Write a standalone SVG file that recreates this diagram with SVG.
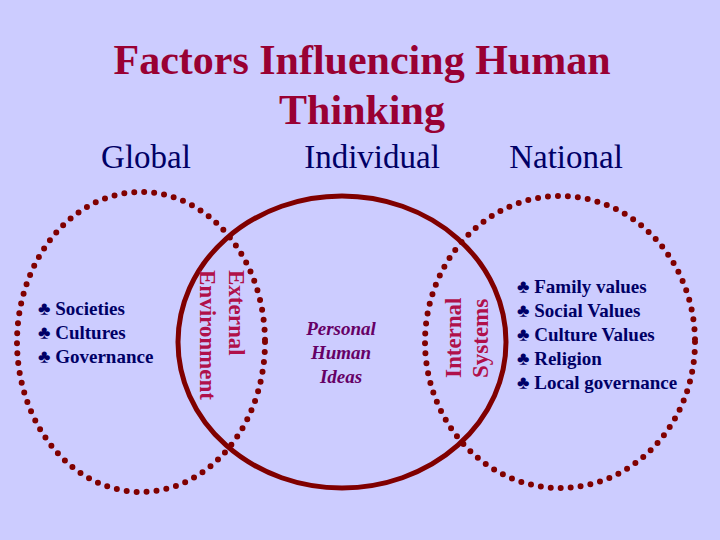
<svg xmlns="http://www.w3.org/2000/svg" width="720" height="540" viewBox="0 0 720 540">
<style>
.t{font-family:"Liberation Serif",serif;text-anchor:middle}
.dot{fill:none;stroke:#800000;stroke-width:6;stroke-linecap:round;stroke-dasharray:0 10}
.lst{font-family:"Liberation Serif",serif;font-weight:bold;font-size:19px;fill:#000066}
.rot{font-family:"Liberation Serif",serif;font-weight:bold;font-size:23px;fill:#b0104a}
.pi{font-style:italic;font-weight:bold;font-size:19px;fill:#660066}
</style>
<rect width="720" height="540" fill="#ccccff"/>
<text class="t" x="362" y="74" font-size="42" font-weight="bold" fill="#990033">Factors Influencing Human</text>
<text class="t" x="362" y="124" font-size="42" font-weight="bold" fill="#990033">Thinking</text>
<text class="t" x="146" y="168" font-size="33" fill="#000066">Global</text>
<text class="t" x="372" y="168" font-size="33" fill="#000066">Individual</text>
<text class="t" x="566" y="168" font-size="33" fill="#000066">National</text>
<g id="global"><ellipse class="dot" cx="141" cy="342" rx="124" ry="150"/>
<text class="lst" x="38" y="315">♣ Societies</text>
<text class="lst" x="38" y="339">♣ Cultures</text>
<text class="lst" x="38" y="363">♣ Governance</text></g>
<g id="national"><ellipse class="dot" cx="560" cy="342" rx="135" ry="146"/>
<text class="lst" x="517" y="293">♣ Family values</text>
<text class="lst" x="517" y="317">♣ Social Values</text>
<text class="lst" x="517" y="341">♣ Culture Values</text>
<text class="lst" x="517" y="365">♣ Religion</text>
<text class="lst" x="517" y="389">♣ Local governance</text></g>
<g id="individual"><ellipse cx="342" cy="342" rx="164" ry="146" fill="none" stroke="#800000" stroke-width="5"/>
<text class="t pi" x="341" y="335">Personal</text>
<text class="t pi" x="341" y="359">Human</text>
<text class="t pi" x="341" y="383">Ideas</text></g>
<g id="external"><text class="rot" transform="translate(229,270) rotate(90)">External</text>
<text class="rot" transform="translate(200,270) rotate(90)">Environment</text></g>
<g id="internal"><text class="rot" transform="translate(461,378) rotate(-90)">Internal</text>
<text class="rot" transform="translate(488,378) rotate(-90)">Systems</text></g>
<g id="connectors"/>
</svg>
